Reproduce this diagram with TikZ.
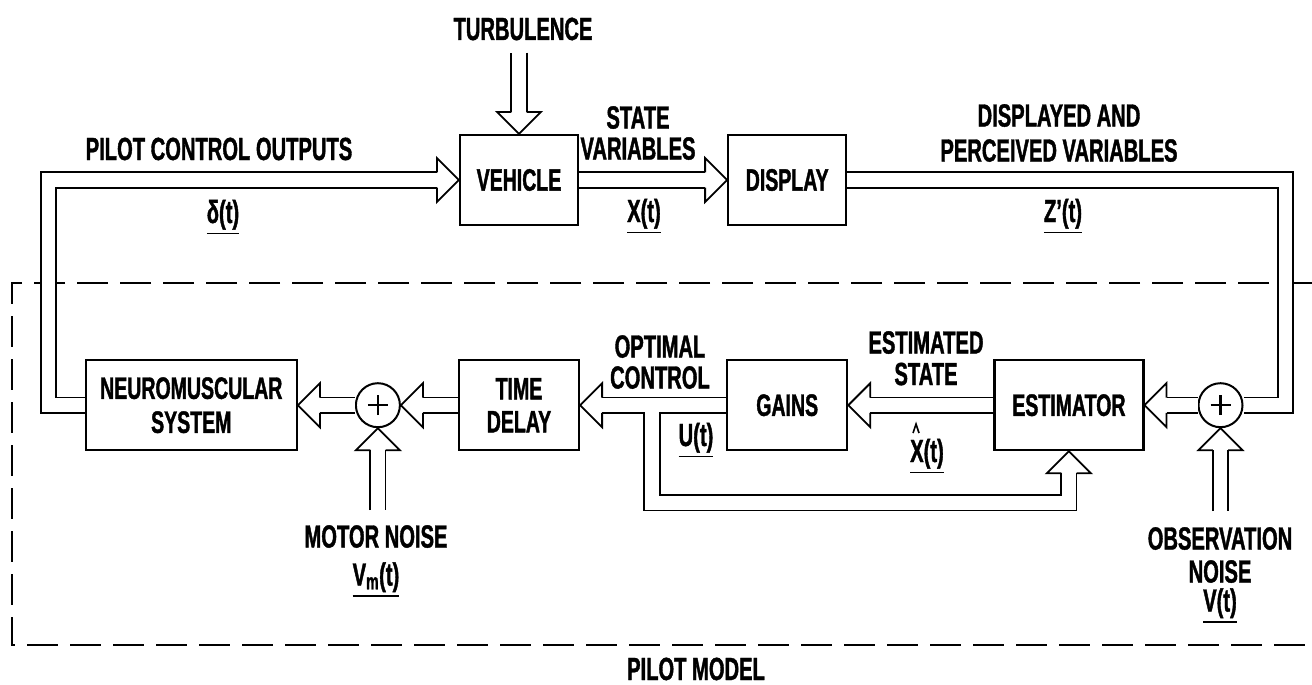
\documentclass[tikz,border=0pt]{standalone}
\usepackage{fontspec}
\setmainfont{Liberation Sans}[FakeStretch=0.63, BoldFeatures={FakeBold=1.2}]
\usetikzlibrary{positioning}

% underlined signal name
\newcommand{\vecu}[1]{\leavevmode\vtop{\hbox{#1}\kern3pt\hrule height 1.8pt}}
% open head of a double-line arrow: tip, direction
\newcommand{\dhead}[2]{\draw[headline, shift={(#1)}, rotate=#2]
  (-22,7.65) -- (-22,22) -- (0,0) -- (-22,-22) -- (-22,-7.65);}

\begin{document}
\begin{tikzpicture}[
  x=1pt, y=-1pt,
  lbl/.style={font=\fontsize{32}{34}\selectfont\bfseries, inner sep=0pt},
  blk/.style={draw, line width=2.2pt, minimum width=#1, minimum height=90pt,
              align=center, font=\fontsize{31}{34}\selectfont\bfseries, inner sep=0pt},
  sum/.style={draw, circle, line width=2pt, minimum size=44pt, inner sep=0pt,
              path picture={\draw[line width=2.4pt]
                ([xshift=-10pt]path picture bounding box.center) -- ([xshift=10pt]path picture bounding box.center)
                ([yshift=-10pt]path picture bounding box.center) -- ([yshift=10pt]path picture bounding box.center);}},
  dline/.style={double=white, double distance=13.5pt, line width=1.8pt},
  headline/.style={line width=1.8pt},
  border/.style={line width=1.8pt, dash pattern=on 31pt off 12pt},
]
\useasboundingbox (0,0) rectangle (1312,685);

%% --- vehicle loop ---
\node[blk=118pt] (vehicle) at (519,180) {VEHICLE};
\node[blk=118pt, right=148pt of vehicle] (display) {DISPLAY};

%% --- pilot model ---
\node[blk=120pt, below=133pt of vehicle] (delay) {TIME\\[-1pt]DELAY};
\node[blk=120pt, below=133pt of display] (gains) {GAINS};
\node[blk=149pt, right=145pt of gains] (est) {ESTIMATOR};
\node[sum, right=53pt of est] (sumobs) {};
\node[sum, left=57pt of delay] (summot) {};
\node[blk=211pt, left=57pt of summot] (nm) {NEUROMUSCULAR\\SYSTEM};

%% labels
\node[lbl, anchor=base] (turb) at (523,40) {TURBULENCE};
\node[lbl, anchor=base] (pco) at (219,160) {PILOT CONTROL OUTPUTS};
\node[lbl, anchor=base] (delta) at (223,223) {\vecu{δ(t)}};
\node[lbl, anchor=north, align=center] (sv) at (638,106) {STATE\\[-3pt]VARIABLES};
\node[lbl, anchor=base] (xt) at (644,222) {\vecu{X(t)}};
\node[lbl, anchor=north, align=center] (dpv) at (1059,104) {DISPLAYED AND\\[1pt]PERCEIVED VARIABLES};
\node[lbl, anchor=base] (zt) at (1063,222) {\vecu{Z'(t)}};
\node[lbl, anchor=north, align=center] (oc) at (660,335) {OPTIMAL\\[-3pt]CONTROL};
\node[lbl, anchor=north, align=center] (es) at (926,331) {ESTIMATED\\[-2.5pt]STATE};
\node[lbl, anchor=base] (ut) at (696,446) {\vecu{U(t)}};
\node[lbl, anchor=base] (xhat) at (927,462) {\vecu{X(t)}};
\node[lbl, anchor=north, align=center] (mnoise) at (376,525) {MOTOR NOISE\\[4pt]\vecu{V\textsubscript{m}(t)}};
\node[lbl, anchor=north, align=center] (onoise) at (1220,527) {OBSERVATION\\[-1pt]NOISE\\[-5pt]\vecu{V(t)}};
\node[lbl, anchor=base] (pm) at (696,680) {PILOT MODEL};

%% estimate hat over X
\draw[line width=1.6pt] ([shift={(-14,-29)}]xhat.base) -- ++(3,-9) -- ++(3,9);

%% pilot model boundary
\draw[border] (1312,283) -- (12,283) -- (12,645) -- (1312,645);

%% double-line connectors
\draw[dline, shorten <=12pt, shorten >=22pt] (vehicle.north |- turb.south) -- (vehicle.north);
\draw[dline, shorten >=22pt] (nm.west) -- ++(-36,0) |- (vehicle.west);
\draw[dline, shorten >=22pt] (vehicle.east) -- (display.west);
\draw[dline] (display.east) -- ++(438,0) |- (sumobs.east);
\draw[dline, shorten >=22pt] (sumobs.west) -- (est.east);
\draw[dline, shorten >=22pt] (est.west) -- (gains.east);
\draw[dline, shorten >=22pt] (gains.west) -- (delay.east);
\coordinate (ujoin) at (652,411.9);
\draw[dline, shorten >=22pt] (ujoin) -- ++(0,91) -| (est.south);
\draw[dline, shorten >=22pt] (delay.west) -- (summot.east);
\draw[dline, shorten >=22pt] (summot.west) -- (nm.east);
\draw[dline, shorten <=15pt, shorten >=22pt] (summot.south |- mnoise.north) -- (summot.south);
\draw[dline, shorten <=16pt, shorten >=22pt] (sumobs.south |- onoise.north) -- (sumobs.south);

%% heads
\dhead{vehicle.north}{-90}
\dhead{vehicle.west}{0}
\dhead{display.west}{0}
\dhead{est.east}{180}
\dhead{gains.east}{180}
\dhead{delay.east}{180}
\dhead{est.south}{90}
\dhead{summot.east}{180}
\dhead{nm.east}{180}
\dhead{summot.south}{90}
\dhead{sumobs.south}{90}

\end{tikzpicture}
\end{document}
